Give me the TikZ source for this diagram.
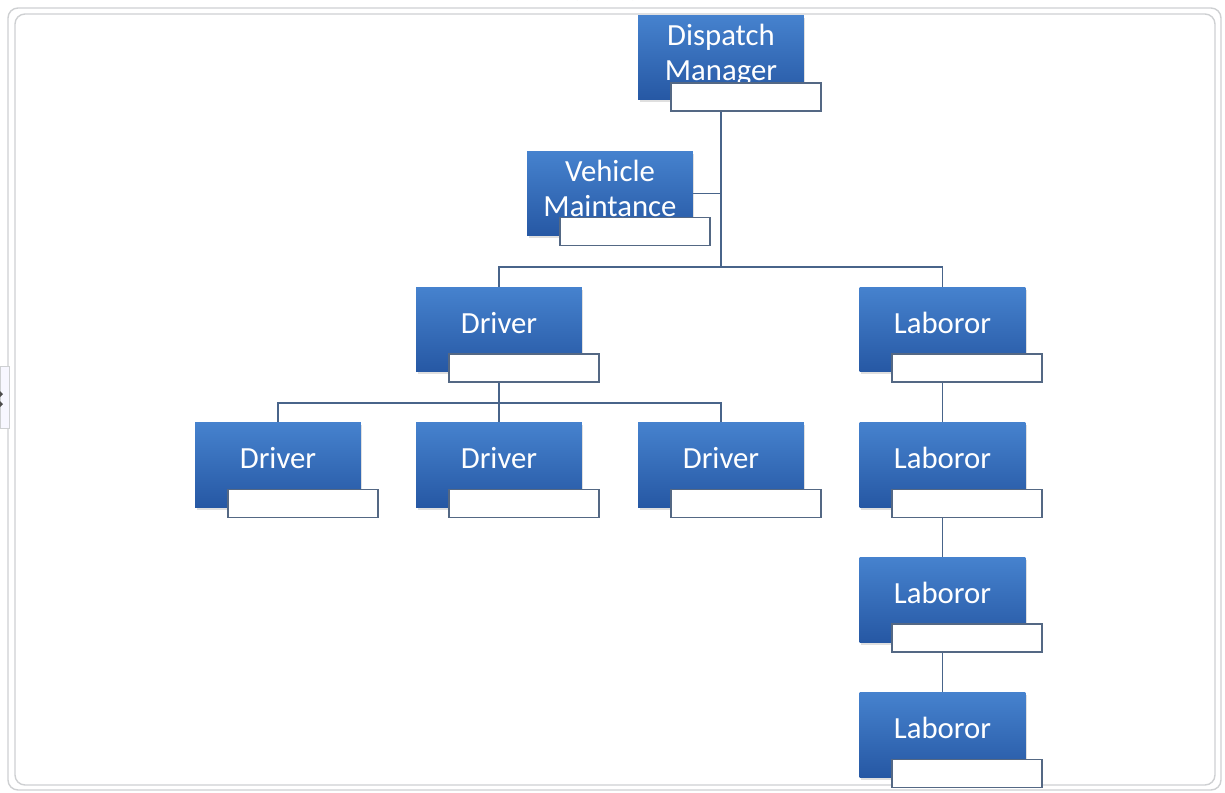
\documentclass[tikz,border=0pt]{standalone}
\usepackage{fontspec}
\setmainfont{Carlito}
\usetikzlibrary{backgrounds,shadows}
\definecolor{unittop}{RGB}{70,130,206}
\definecolor{unitbot}{RGB}{38,88,164}
\definecolor{boxedge}{RGB}{84,104,132}
\definecolor{linkcol}{RGB}{72,100,138}
\definecolor{framecol}{RGB}{206,208,210}
\begin{document}
\begin{tikzpicture}[x=0.02cm,y=-0.02cm,
    unit/.style={rectangle, minimum width=3.32cm, minimum height=1.7cm, inner sep=0pt,
      top color=unittop, bottom color=unitbot, draw=none, text=white, align=center,
      font=\fontsize{17.5}{20}\selectfont, text depth=0.2cm,
      drop shadow={opacity=0.25, shadow xshift=0.03cm, shadow yshift=-0.05cm}},
    unit1/.style={unit, text depth=0.26cm},
    namebox/.style={rectangle, minimum width=3cm, minimum height=0.56cm, inner sep=0pt,
      fill=white, draw=boxedge, line width=0.6pt},
    link/.style={draw=linkcol, line width=0.6pt},
    frame/.style={draw=framecol, line width=0.8pt, rounded corners=0.2cm}]
    \useasboundingbox (0,0) rectangle (1225,792);

    % outer frame
    \draw[frame] (8,8) rectangle (1221,790);
    \draw[frame] (15,14) rectangle (1215,785);
    \draw[draw=framecol, fill=blue!3] (0,366) rectangle (9,428);
    \fill[black!70] (0,391) -- (3,394) -- (0,397) -- cycle;
    \fill[black!70] (0,401) -- (3,404) -- (0,407) -- cycle;
    \draw[framecol, line width=0.8pt] (577,0) arc (180:240:6);
    \draw[framecol, line width=0.8pt] (633,0) arc (0:-60:6);

    % top
    \node[unit] (dm) at (721,57.5) {Dispatch\\Manager};
    \node[namebox] (dm-n) at (746,97) {};
    \node[unit] (vm) at (610,193.5) {Vehicle\\Maintance};
    \node[namebox] (vm-n) at (635,231.5) {};

    % drivers
    \node[unit1] (d0) at (499,329.5) {Driver};
    \node[namebox] (d0-n) at (524,368) {};
    \node[unit1] (d1) at (278,464.5) {Driver};
    \node[namebox] (d1-n) at (303,503.5) {};
    \node[unit1] (d2) at (499,464.5) {Driver};
    \node[namebox] (d2-n) at (524,503.5) {};
    \node[unit1] (d3) at (721,464.5) {Driver};
    \node[namebox] (d3-n) at (746,503.5) {};

    % laborors
    \node[unit1] (l0) at (942.5,329.5) {Laboror};
    \node[namebox] (l0-n) at (967,368) {};
    \node[unit1] (l1) at (942.5,464.5) {Laboror};
    \node[namebox] (l1-n) at (967,503.5) {};
    \node[unit1] (l2) at (942.5,599.5) {Laboror};
    \node[namebox] (l2-n) at (967,638) {};
    \node[unit1] (l3) at (942.5,734.5) {Laboror};
    \node[namebox] (l3-n) at (967,773.5) {};

    \begin{scope}[on background layer]
      \coordinate (bus1) at (721,267);
      \coordinate (bus2) at (499,403);
      \draw[link] (dm.south) -- (bus1);
      \draw[link] (vm.east) -- (vm.east -| dm.south);
      \draw[link] (d0.north) |- (bus1) -| (l0.north);
      \draw[link] (d0.south) -- (bus2);
      \draw[link] (d1.north) |- (bus2) -| (d3.north);
      \draw[link] (bus2) -- (d2.north);
      \draw[link] (l0.south) -- (l1.north);
      \draw[link] (l1.south) -- (l2.north);
      \draw[link] (l2.south) -- (l3.north);
    \end{scope}
\end{tikzpicture}
\end{document}
